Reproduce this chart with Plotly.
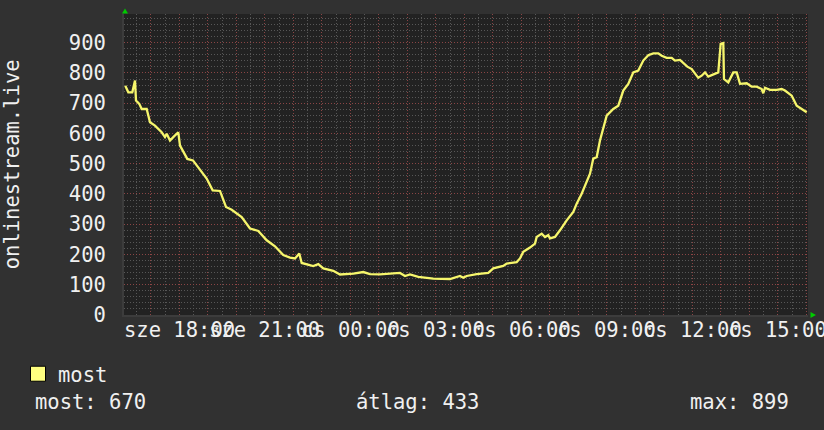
import plotly.graph_objects as go

# hours counted from "sze 18:00"
hours = [-1.895, -1.789, -1.649, -1.554, -1.519, -1.404, -1.319, -1.144, -1.028, -0.853,
         -0.618, -0.502, -0.442, -0.326, -0.211, -0.035, 0.025, 0.140, 0.281, 0.480,
         0.726, 0.961, 1.172, 1.428, 1.639, 1.839, 2.189, 2.481, 2.772, 3.067,
         3.358, 3.649, 3.884, 4.060, 4.211, 4.295, 4.702, 4.877, 5.053, 5.404,
         5.639, 6.105, 6.456, 6.691, 7.042, 7.509, 7.744, 7.919, 8.095, 8.386,
         8.681, 8.912, 9.498, 9.849, 9.965, 10.084, 10.435, 10.842, 11.018, 11.368,
         11.488, 11.839, 11.954, 12.070, 12.305, 12.481, 12.540, 12.716, 12.832, 12.947,
         13.007, 13.182, 13.358, 13.593, 13.825, 13.944, 14.119, 14.295, 14.411, 14.526,
         14.646, 14.761, 14.996, 15.228, 15.404, 15.579, 15.754, 15.930, 16.105, 16.281,
         16.456, 16.632, 16.807, 16.926, 17.102, 17.277, 17.393, 17.568, 17.684, 17.825,
         17.979, 18.095, 18.211, 18.330, 18.446, 18.561, 18.737, 18.912, 18.996, 19.088,
         19.112, 19.263, 19.439, 19.558, 19.674, 19.909, 20.084, 20.260, 20.435, 20.491,
         20.551, 20.726, 20.961, 21.137, 21.253, 21.488, 21.663, 21.839, 22.014]
viewers = [758, 736, 736, 775, 709, 698, 681, 681, 637, 626,
           604, 588, 599, 577, 588, 604, 560, 538, 516, 511,
           480, 451, 412, 410, 357, 348, 324, 286, 278, 247,
           227, 198, 190, 187, 203, 172, 162, 168, 154, 146,
           134, 137, 142, 135, 134, 137, 139, 129, 134, 126,
           124, 120, 119, 129, 123, 129, 135, 139, 154, 162,
           170, 175, 187, 209, 223, 236, 258, 269, 258, 264,
           253, 258, 280, 313, 341, 368, 401, 439, 467, 517,
           522, 577, 659, 681, 692, 742, 764, 802, 808, 841,
           859, 865, 865, 857, 850, 850, 841, 843, 832, 821,
           813, 797, 784, 791, 802, 788, 795, 802, 896, 899,
           780, 769, 802, 802, 764, 766, 755, 755, 747, 733,
           751, 744, 744, 747, 742, 725, 692, 681, 670]

label_hours = [0, 3, 6, 9, 12, 15, 18, 21]
label_text = ["sze 18:00", "sze 21:00", "cs 00:00", "cs 03:00",
              "cs 06:00", "cs 09:00", "cs 12:00", "cs 15:00"]

series_name = "most"
stat_labels = ["most: 670", "átlag: 433", "max: 899"]

W, H = 824, 430
L, R, T, B = 124, 16, 13.5, 115
FONT = "DejaVu Sans Mono"
BG = "#313131"
CANVAS = "#222222"
LINE = "#f6f66c"
RED = "#8a4545"
GRAY = "#575757"
TXT = "#f0f0f0"


def px(x):
    return (x - L) / (W - L - R)


def py(y):
    return (H - B - y) / (H - B - T)


fig = go.Figure()
fig.add_trace(go.Scatter(x=hours, y=viewers, mode="lines",
                         line=dict(color=LINE, width=2.3), showlegend=False))
fig.add_trace(go.Scatter(x=[None], y=[None], mode="markers", name=series_name,
                         marker=dict(symbol="square", size=15, color="#ffff80",
                                     line=dict(color="black", width=1))))

fig.update_xaxes(range=[-1.94, 22.06], tick0=0, dtick=1, showticklabels=False,
                 showgrid=True, gridcolor=RED, griddash="1px,2px", gridwidth=1,
                 minor=dict(dtick=0.5, showgrid=True, gridcolor=GRAY, griddash="1px,2px"),
                 zeroline=False, showline=True, linecolor="#3c3c3c", linewidth=2)
fig.update_yaxes(range=[0, 995], tick0=0, dtick=100, showgrid=True, gridcolor=RED,
                 griddash="1px,2px", gridwidth=1,
                 minor=dict(dtick=20, showgrid=True, gridcolor=GRAY, griddash="1px,2px"),
                 zeroline=False, showline=True, linecolor="#3c3c3c", linewidth=2,
                 tickfont=dict(family=FONT, size=20.5, color=TXT),
                 ticklabelstandoff=12)

for h, t in zip(label_hours, label_text):
    fig.add_annotation(x=h, y=0, xref="x", yref="paper", text=t, showarrow=False,
                       xanchor="center", yanchor="middle", yshift=-15,
                       font=dict(family=FONT, size=20.5, color=TXT))

fig.add_annotation(x=px(12), y=py(164), xref="paper", yref="paper",
                   text="onlinestream.live", textangle=-90, showarrow=False,
                   xanchor="center", yanchor="middle",
                   font=dict(family=FONT, size=20.5, color=TXT))

stat_pos = [(33, "left"), (354, "left"), (791, "right")]
for s, (x, anc) in zip(stat_labels, stat_pos):
    fig.add_annotation(x=px(x), y=py(402), xref="paper", yref="paper", text=s,
                       showarrow=False, xanchor=anc, yanchor="middle",
                       font=dict(family=FONT, size=20.5, color=TXT))

# green axis arrows
up = [(122, 13), (128, 13), (125, 8)]
right = [(810.5, 312), (810.5, 318), (816, 315)]
for tri in (up, right):
    path = "M " + " L ".join(f"{px(a)},{py(b)}" for a, b in tri) + " Z"
    fig.add_shape(type="path", path=path, xref="paper", yref="paper",
                  fillcolor="#00cc00", line=dict(width=0))

fig.update_layout(
    width=W, height=H,
    margin=dict(l=L, r=R, t=T, b=B),
    paper_bgcolor=BG, plot_bgcolor=CANVAS,
    font=dict(family=FONT, size=20.5, color=TXT),
    legend=dict(x=px(18), y=py(374), xanchor="left", yanchor="middle",
                bgcolor="rgba(0,0,0,0)", font=dict(family=FONT, size=20.5, color=TXT)),
)

fig.write_html("out.html", config={"displayModeBar": False},
               post_script="document.body.style.margin='0';document.body.style.background='%s';" % BG)
